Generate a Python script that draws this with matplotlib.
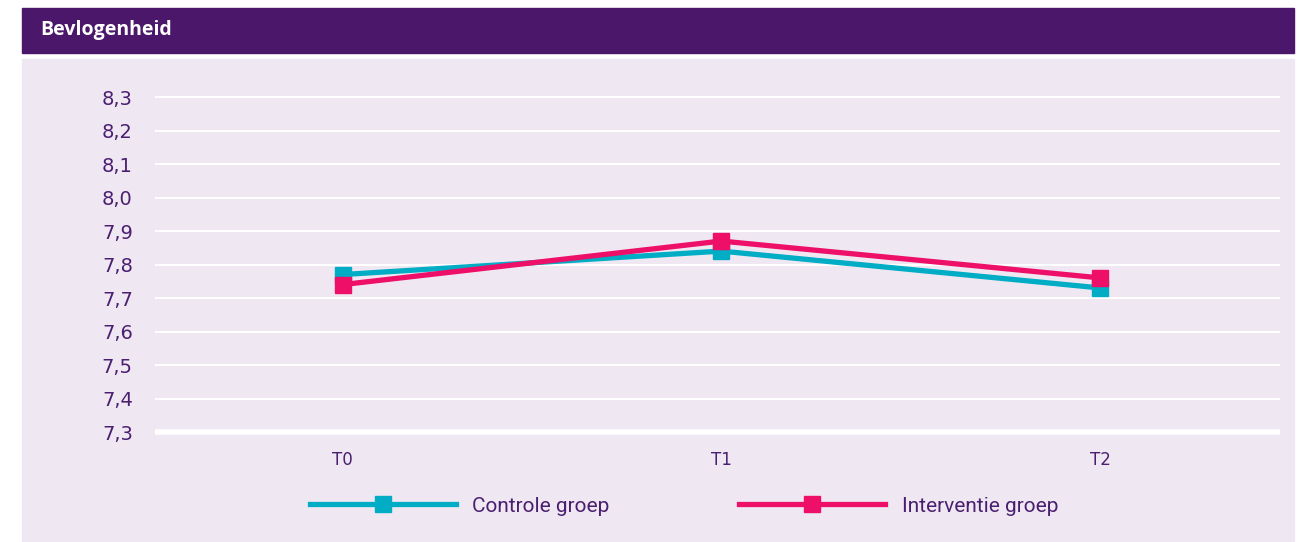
import matplotlib
matplotlib.use("Agg")
from matplotlib import pyplot as plt
from matplotlib.patches import Rectangle

# data
momenten = ["T0", "T1", "T2"]
controle = [7.77, 7.84, 7.73]
interventie = [7.74, 7.87, 7.76]
y_ticks = [7.3, 7.4, 7.5, 7.6, 7.7, 7.8, 7.9, 8.0, 8.1, 8.2, 8.3]

PAARS = "#4a176a"
LILA = "#efe8f3"
CYAAN = "#00adc4"
ROZE = "#ee0f69"
TEKST = "#4b1f70"

W, H = 1303, 542
fig = plt.figure(figsize=(W / 100, H / 100), dpi=100)
fig.patch.set_facecolor("white")

def px_rect(x0, y0, x1, y1, color):
    fig.patches.append(Rectangle((x0 / W, 1 - y1 / H), (x1 - x0) / W, (y1 - y0) / H,
                                 transform=fig.transFigure, color=color, zorder=-5))

# header balk en achtergrondpaneel
px_rect(22, 8, 1294, 53, PAARS)
px_rect(22, 59, 1294, 542, LILA)
fig.text(40 / W, 1 - 30 / H, "Bevlogenheid", color="white", fontsize=14,
         fontweight="bold", family="Open Sans", va="center", ha="left")

# assen: 7.3 op y=432px, 8.3 op y=97px
per_eenheid = 335.0
ymin, ymax = 7.29, 8.31
top_px = 97 - (ymax - 8.3) * per_eenheid
bot_px = 432 + (7.3 - ymin) * per_eenheid
ax = fig.add_axes([155 / W, 1 - bot_px / H, (1280 - 155) / W, (bot_px - top_px) / H])
ax.patch.set_alpha(0)
ax.set_zorder(2)

x = list(range(len(momenten)))
ax.set_xlim(-0.495, 2.475)
ax.set_ylim(ymin, ymax)

for v in y_ticks:
    ax.axhline(v, color="white", lw=4 if v == 7.3 else 1.5, zorder=1)

ax.plot(x, controle, color=CYAAN, lw=3.8, marker="s", ms=12, zorder=3,
        label="Controle groep")
ax.plot(x, interventie, color=ROZE, lw=3.8, marker="s", ms=12, zorder=4,
        label="Interventie groep")

ax.set_yticks(y_ticks)
ax.set_yticklabels([f"{v:.1f}".replace(".", ",") for v in y_ticks])
ax.set_xticks(x)
ax.set_xticklabels(momenten)
ax.tick_params(axis="y", length=0, pad=16, labelsize=14, labelcolor=TEKST)
ax.tick_params(axis="x", length=0, pad=11, labelsize=12, labelcolor=TEKST)
for s in ax.spines.values():
    s.set_visible(False)

leg = fig.legend(loc="center", bbox_to_anchor=(684 / W, 1 - 506 / H), ncol=2,
                 frameon=False, handlelength=7.0, handletextpad=0.8,
                 columnspacing=6.2, numpoints=1,
                 prop={"family": "Roboto", "size": 15})
for t in leg.get_texts():
    t.set_color(TEKST)

fig.savefig("out.png", dpi=100, facecolor="white")
